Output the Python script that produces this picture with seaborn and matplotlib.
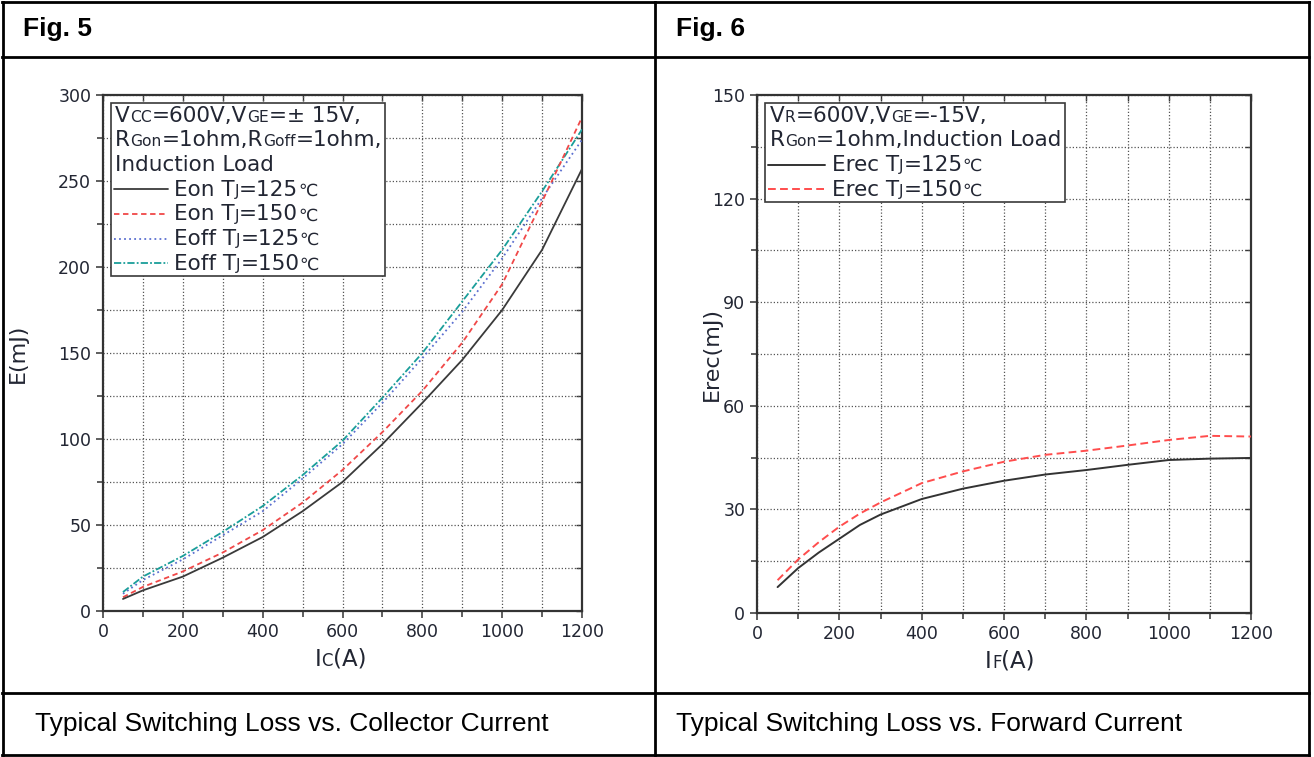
import matplotlib
matplotlib.use("Agg")
import matplotlib.pyplot as plt
import seaborn as sns
import pandas as pd
from matplotlib.lines import Line2D
from matplotlib.patches import Rectangle
from matplotlib.ticker import MultipleLocator

# ---------------------------------------------------------------- data
# Fig. 5: switching energy vs. collector current
ic_a = [50, 100, 200, 300, 400, 500, 600, 700, 800, 900, 1000, 1100, 1200]
eon_125 = [7, 12, 20, 31, 43, 58, 75, 97, 121, 146, 175, 210, 257]
eon_150 = [8, 14, 23, 34, 47, 63, 82, 104, 128, 156, 190, 238, 287]
eoff_125 = [10, 18, 30, 44, 58, 77, 97, 121, 147, 174, 205, 240, 274]
eoff_150 = [11, 20, 32, 46, 61, 79, 99, 124, 150, 180, 210, 244, 280]

# Fig. 6: reverse-recovery energy vs. forward current
if_a = [50, 100, 150, 200, 250, 300, 400, 500, 600, 700, 800, 900, 1000, 1100, 1200]
erec_125 = [7.5, 13, 17.5, 21.5, 25.5, 28.5, 33, 36, 38.3, 40.1, 41.4, 42.9, 44.3, 44.7, 44.9]
erec_150 = [9.5, 15.5, 20.5, 25, 28.8, 32, 37.6, 41, 43.8, 45.8, 47, 48.5, 50.1, 51.3, 51.1]

x_ticks = [0, 200, 400, 600, 800, 1000, 1200]
y5_ticks = [0, 50, 100, 150, 200, 250, 300]
y6_ticks = [0, 30, 60, 90, 120, 150]

header_5, header_6 = "Fig. 5", "Fig. 6"
caption_5 = "Typical Switching Loss vs. Collector Current"
caption_6 = "Typical Switching Loss vs. Forward Current"

# ---------------------------------------------------------------- style
sns.set_theme(style="white")
plt.rcParams["font.family"] = ["DejaVu Sans"]

TEXT = "#222633"
SPINE = "#333333"
GRID = "#555555"
SUB = 0.72  # relative size of the small-cap subscripts

W, H, DPI = 1314, 757, 100
fig = plt.figure(figsize=(W / DPI, H / DPI), dpi=DPI)
fig.patch.set_facecolor("white")
renderer = fig.canvas.get_renderer()


def fx(px):
    return px / W


def fy(py):
    return 1 - py / H


ax5 = fig.add_axes([fx(103), fy(611), (582 - 103) / W, (611 - 95) / H])
ax6 = fig.add_axes([fx(757), fy(613), (1251 - 757) / W, (613 - 95) / H])


def to_axes(ax, x_px, y_px):
    """Pixel offsets from the axes' top-left corner -> axes fraction."""
    bb = ax.get_window_extent(renderer)
    return x_px / bb.width, 1 - y_px / bb.height


def rich(ax, x_px, y_px, pieces, size, ha="left", z=6):
    """One baseline of text made of (string, relative size) pieces."""
    arts, widths = [], []
    for s, k in pieces:
        t = ax.text(0, 0, s, fontsize=size * k, color=TEXT, va="baseline",
                    ha="left", transform=ax.transAxes, clip_on=False, zorder=z)
        widths.append(t.get_window_extent(renderer).width)
        arts.append(t)
    total = sum(widths)
    cur = x_px - (total / 2 if ha == "center" else 0)
    start = cur
    for t, w in zip(arts, widths):
        t.set_position(to_axes(ax, cur, y_px))
        cur += w
    return start, cur


def style_axes(ax, yticks, yminor):
    ax.set_xlim(0, 1200)
    ax.set_ylim(yticks[0], yticks[-1])
    ax.set_xticks(x_ticks)
    ax.set_yticks(yticks)
    ax.xaxis.set_minor_locator(MultipleLocator(100))
    ax.yaxis.set_minor_locator(MultipleLocator(yminor))
    ax.set_axisbelow(True)
    ax.grid(which="both", color=GRID, linestyle=(0, (1, 1.6)), linewidth=0.9)
    for sp in ax.spines.values():
        sp.set_color(SPINE)
        sp.set_linewidth(1.6)
        sp.set_visible(True)
    ax.tick_params(which="both", direction="out", color=SPINE, width=1.1,
                   bottom=True, left=True, top=False, right=False)
    ax.tick_params(which="major", length=5, pad=3.5, labelsize=12.5, labelcolor=TEXT)
    ax.tick_params(which="minor", length=4)
    # inward ticks along the top and right frame
    top = ax.secondary_xaxis("top")
    top.set_xticks(range(0, 1201, 100))
    top.tick_params(direction="in", length=4, color=SPINE, width=1.0, labeltop=False)
    top.spines["top"].set_visible(False)
    right = ax.secondary_yaxis("right")
    right.set_yticks(list(range(int(yticks[0]), int(yticks[-1]) + 1, int(yminor))))
    right.tick_params(direction="in", length=4, color=SPINE, width=1.0, labelright=False)
    right.spines["right"].set_visible(False)


def legend_box(ax, header_lines, entries, handle_span, label_x, text_x, first_base,
               step, size, box_left=8, box_top=8, pad_r=3, pad_b=6):
    right_edge = 0
    base = first_base
    for pieces in header_lines:
        _, end = rich(ax, text_x, base, pieces, size)
        right_edge = max(right_edge, end)
        base += step
    for pieces, st in entries:
        y_line = base - 0.3 * size * DPI / 72
        (x0, yl), (x1, _) = to_axes(ax, handle_span[0], y_line), to_axes(ax, handle_span[1], y_line)
        ax.add_line(Line2D([x0, x1], [yl, yl], transform=ax.transAxes, clip_on=False,
                           zorder=6, **st))
        _, end = rich(ax, label_x, base, pieces, size)
        right_edge = max(right_edge, end)
        base += step
    bottom = base - step + pad_b
    (bx0, by0) = to_axes(ax, box_left, bottom)
    (bx1, by1) = to_axes(ax, right_edge + pad_r, box_top)
    ax.add_patch(Rectangle((bx0, by0), bx1 - bx0, by1 - by0, transform=ax.transAxes,
                           facecolor="white", edgecolor="#3a3a3a", linewidth=1.2,
                           zorder=5, clip_on=False))


# ---------------------------------------------------------------- Fig. 5
s_eon125 = dict(color="#3a3a3a", linestyle="-", linewidth=1.3)
s_eon150 = dict(color="#f04848", linestyle=(0, (3.0, 2.0)), linewidth=1.3)
s_eoff125 = dict(color="#5b6fd0", linestyle=(0, (1.0, 1.8)), linewidth=1.3)
s_eoff150 = dict(color="#1a9e9a", linestyle=(0, (4.0, 1.2, 1.0, 1.2)), linewidth=1.3)

df5 = pd.DataFrame({"Ic": ic_a, "eon125": eon_125, "eon150": eon_150,
                    "eoff125": eoff_125, "eoff150": eoff_150})
for col, st in [("eoff125", s_eoff125), ("eoff150", s_eoff150),
                ("eon150", s_eon150), ("eon125", s_eon125)]:
    sns.lineplot(data=df5, x="Ic", y=col, ax=ax5, legend=False, zorder=3, **st)

style_axes(ax5, y5_ticks, 25)
ax5.set_xlabel("")
ax5.set_ylabel("E(mJ)", fontsize=16, color=TEXT)
ax5.yaxis.set_label_coords(-0.157, 0.5)
rich(ax5, 479 / 2 - 2, 516 + 55, [("I", 1), ("C", SUB), ("(A)", 1)], 16.5, ha="center")

legend_box(
    ax5,
    header_lines=[
        [("V", 1), ("CC", SUB), ("=600V,V", 1), ("GE", SUB), ("=± 15V,", 1)],
        [("R", 1), ("Gon", SUB), ("=1ohm,R", 1), ("Goff", SUB), ("=1ohm,", 1)],
        [("Induction Load", 1)],
    ],
    entries=[
        ([("Eon T", 1), ("J", SUB), ("=125", 1), ("℃", 0.8)], s_eon125),
        ([("Eon T", 1), ("J", SUB), ("=150", 1), ("℃", 0.8)], s_eon150),
        ([("Eoff T", 1), ("J", SUB), ("=125", 1), ("℃", 0.8)], s_eoff125),
        ([("Eoff T", 1), ("J", SUB), ("=150", 1), ("℃", 0.8)], s_eoff150),
    ],
    handle_span=(11, 65), label_x=71, text_x=12, first_base=26.7, step=24.7, size=15.5,
)

# ---------------------------------------------------------------- Fig. 6
s_erec125 = dict(color="#333333", linestyle="-", linewidth=1.4)
s_erec150 = dict(color="#ff4d4d", linestyle=(0, (4.0, 2.2)), linewidth=1.4)

df6 = pd.DataFrame({"If": if_a, "erec125": erec_125, "erec150": erec_150})
for col, st in [("erec150", s_erec150), ("erec125", s_erec125)]:
    sns.lineplot(data=df6, x="If", y=col, ax=ax6, legend=False, zorder=3, **st)

style_axes(ax6, y6_ticks, 15)
ax6.set_xlabel("")
ax6.set_ylabel("Erec(mJ)", fontsize=16, color=TEXT)
ax6.yaxis.set_label_coords(-0.071, 0.5)
rich(ax6, 494 / 2 + 6, 518 + 55, [("I", 1), ("F", SUB), ("(A)", 1)], 16.5, ha="center")

legend_box(
    ax6,
    header_lines=[
        [("V", 1), ("R", SUB), ("=600V,V", 1), ("GE", SUB), ("=-15V,", 1)],
        [("R", 1), ("Gon", SUB), ("=1ohm,Induction Load", 1)],
    ],
    entries=[
        ([("Erec T", 1), ("J", SUB), ("=125", 1), ("℃", 0.8)], s_erec125),
        ([("Erec T", 1), ("J", SUB), ("=150", 1), ("℃", 0.8)], s_erec150),
    ],
    handle_span=(11, 68), label_x=75, text_x=13, first_base=26.7, step=24.7, size=15.5,
)

# ---------------------------------------------------------------- table frame
def rule(x0, y0, x1, y1, lw=2.0, color="black"):
    fig.add_artist(Line2D([fx(x0), fx(x1)], [fy(y0), fy(y1)], transform=fig.transFigure,
                          color=color, linewidth=lw, solid_capstyle="projecting"))


rule(2, 1.5, 1309, 1.5)          # top
rule(2, 57, 1309, 57)            # below headers
rule(2, 693, 1309, 693)          # above captions
rule(2, 755, 1309, 755)          # bottom
rule(2.5, 1.5, 2.5, 755)         # left
rule(654.5, 1.5, 654.5, 755)     # middle
rule(1308.5, 1.5, 1308.5, 755)   # right

table_font = ["Liberation Sans", "DejaVu Sans"]
fig.text(fx(23), fy(36), header_5, fontsize=19, fontweight="bold", family=table_font,
         va="baseline", color="black")
fig.text(fx(676), fy(36), header_6, fontsize=19, fontweight="bold", family=table_font,
         va="baseline", color="black")
fig.text(fx(35), fy(731), caption_5, fontsize=19, family=table_font, va="baseline",
         color="black")
fig.text(fx(676), fy(731), caption_6, fontsize=19, family=table_font, va="baseline",
         color="black")

fig.savefig("out.png", dpi=DPI, facecolor="white")
